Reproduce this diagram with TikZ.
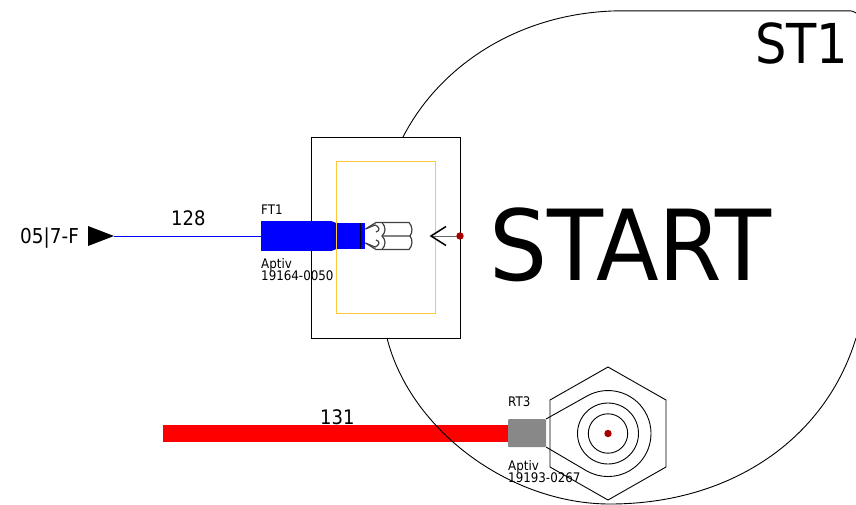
\documentclass[tikz,border=0pt]{standalone}
\usepackage{fontspec}
\setmainfont{DejaVu Sans}[FakeStretch=0.9]
\newfontfamily\bigfont{DejaVu Sans}[FakeStretch=0.935]
\newcommand{\fs}[1]{\fontsize{#1}{#1}\selectfont}
\definecolor{frameyellow}{HTML}{FFC83C}
\definecolor{dotred}{HTML}{A80000}
\definecolor{shellgray}{HTML}{888888}
\tikzset{
  thinline/.style={draw=black,line width=0.9pt},
  label/.style={inner sep=0pt,anchor=base west,text=black},
  forkline/.style={draw=black!75,line width=1.2pt},
}
\begin{document}
\begin{tikzpicture}[x=1pt,y=-1pt]
\useasboundingbox (0,0) rectangle (856,504);
\fill[white] (0,0) rectangle (856,504);
% RT3 wire
\coordinate (w2a) at (163,433.5);
\coordinate (w2b) at (509,433.5);
\draw[red,line width=17pt] (w2a) -- (w2b);
% big outline
\draw[thinline] (403,137) .. controls (440,65) and (520,12) .. (620,10.8) -- (848,10.8) .. controls (852,10.8) and (854,11.5) .. (856,13);
\draw[thinline] (387,338) .. controls (410,430) and (510,504) .. (610,504) .. controls (730,504) and (825,440) .. (856,338);
\node[label] (st1) at (755,63) {\fs{55}ST1};
\node[label] (start) at (489,280) {\fs{98}\bigfont START};
% frame
\draw[thinline] (311.5,137.5) rectangle (460,338.5);
% left terminal
\node[label] (lab) at (20,243) {\fs{20.5}05|7-F};
\fill[black] (88,226) -- (114,236) -- (88,246) -- cycle;
\coordinate (w1a) at (114,236);
\coordinate (w1b) at (262,236);
\draw[blue,line width=0.9pt] (w1a) -- (w1b);
\node[label] (n128) at (171,225) {\fs{20}128};
% FT1
\fill[blue] (261,221) rectangle (331,251);
\fill[blue!88!black] (331,221) -- (334,222) -- (336,223) -- (336,249) -- (334,250) -- (331,251) -- cycle;
\fill[blue] (336,223) rectangle (365,249);
\draw[black,line width=1pt] (360.5,223) -- (360.5,249);
\draw[frameyellow,line width=1.1pt] (336.5,161.5) rectangle (435.5,313.5);
\node[label] (ft1) at (261,214) {\fs{13.2}FT1};
\node[label] (apt1) at (261,268) {\fs{13.2}Aptiv};
\node[label] (pn1) at (261,280) {\fs{13.2}19164-0050};
% fork
\draw[forkline] (365.5,229) -- (376,222.5) -- (409,222.5) .. controls (412.5,226) and (413,232) .. (410,236) -- (382,236);
\draw[forkline] (365.5,243) -- (376,249.5) -- (409,249.5) .. controls (412.5,246) and (413,240) .. (410,236);
\draw[forkline] (365.5,229) -- (375,225) .. controls (379,226) and (381,231) .. (376,232);
\draw[forkline] (365.5,243) -- (375,247) .. controls (379,246) and (381,241) .. (376,240);
\draw[forkline] (382,222.5) .. controls (386,227) and (386,232) .. (382,236) .. controls (386,240) and (386,245) .. (382,249.5);
% arrow and dot
\draw[black!60,line width=0.9pt] (431,236) -- (460,236);
\draw[black,line width=1.5pt] (446,226.5) -- (431,236) -- (446,245.5);
\fill[dotred] (460,236) circle[radius=3.7pt];
% RT3
\node[label] (n131) at (320,424) {\fs{20}131};
\fill[shellgray,rounded corners=1pt] (508,419) rectangle (546,447);
\draw[thinline] (608,367) -- (666,400) -- (666,467) -- (608,500) -- (550,467) -- (550,400) -- cycle;
\draw[thinline] (546,419) -- (586.5,396.3) arc[start angle=120,end angle=-120,radius=43pt] -- (546,447);
\draw[thinline] (608,433.5) circle[radius=30.5pt];
\draw[thinline] (608,433.5) circle[radius=19.7pt];
\fill[dotred] (608,433.5) circle[radius=3.7pt];
\node[label] (rt3) at (508,406) {\fs{13.2}RT3};
\node[label] (apt2) at (508,470) {\fs{13.2}Aptiv};
\node[label] (pn2) at (508,482) {\fs{13.2}19193-0267};
\end{tikzpicture}
\end{document}
